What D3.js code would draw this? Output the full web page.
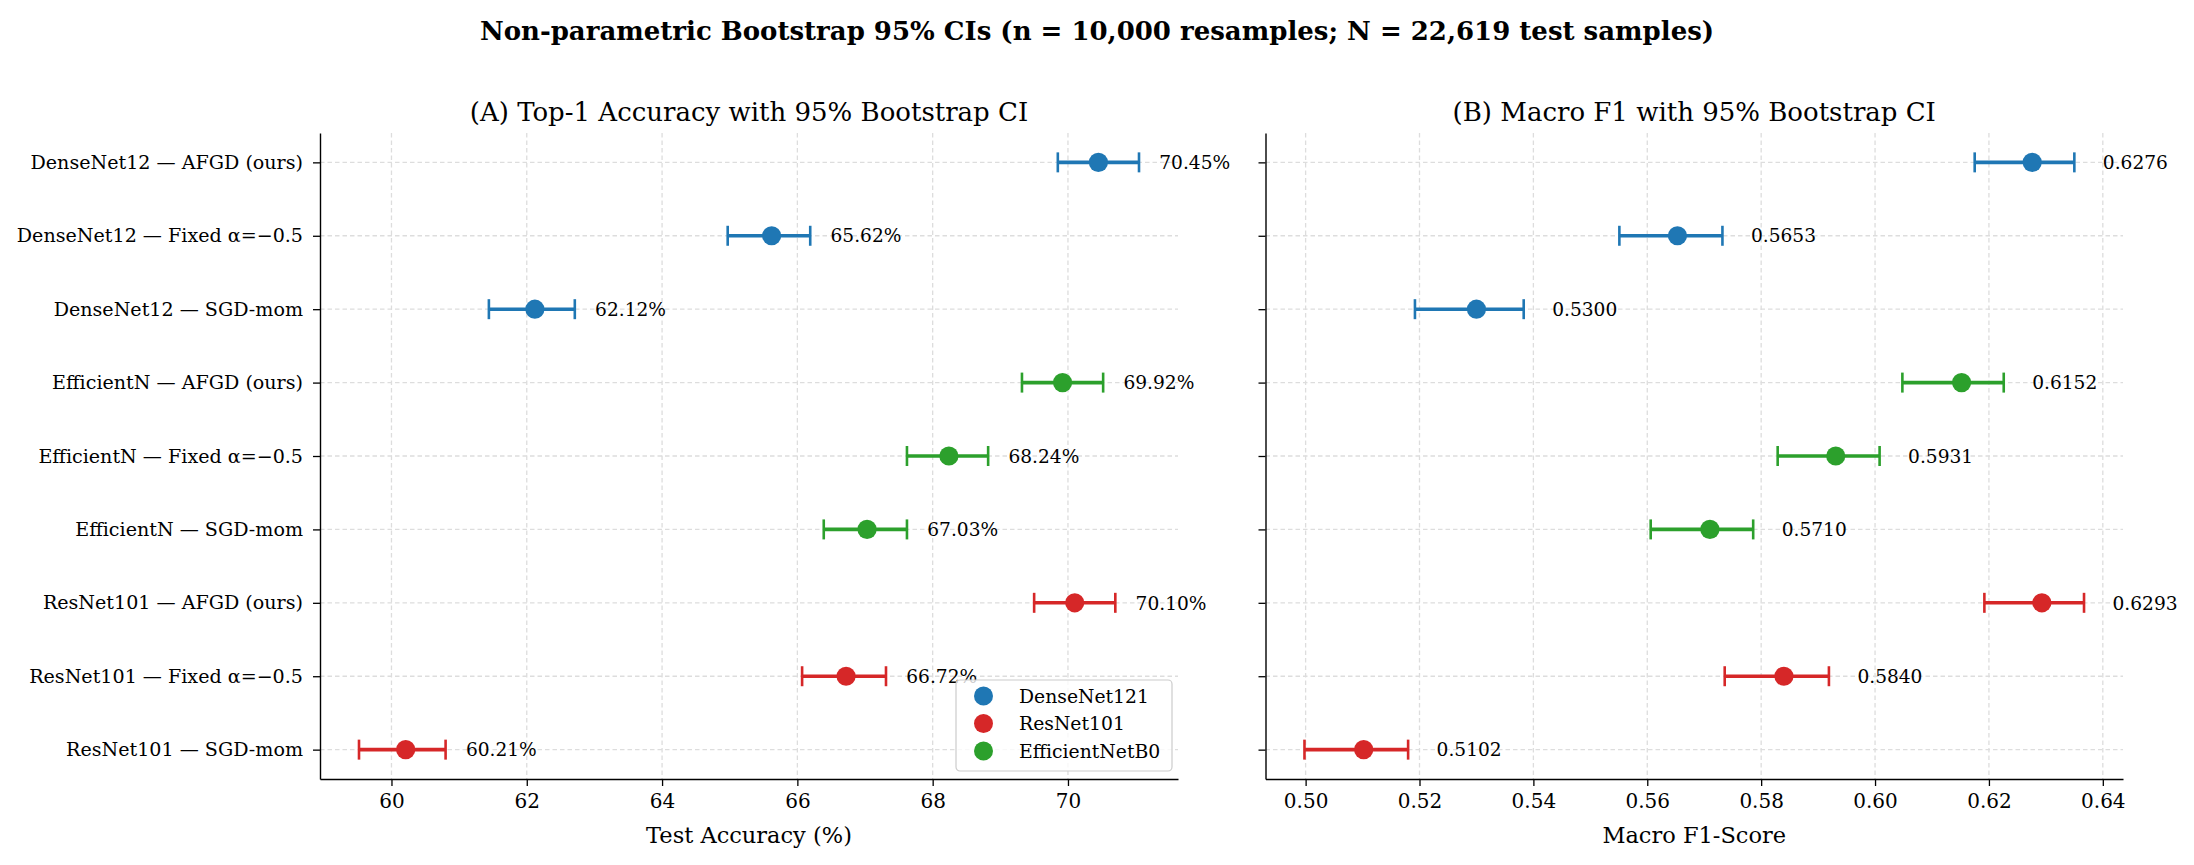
<!DOCTYPE html>
<html>
<head>
<meta charset="utf-8">
<script src="https://cdn.jsdelivr.net/npm/d3@7"></script>
<style>
  body { margin: 0; background: #fff; }
  text { font-family: "DejaVu Serif", serif; }
</style>
</head>
<body>
<div id="chart"></div>
<script>
// rows, top to bottom
var rowLabels = [
  "DenseNet12 \u2014 AFGD (ours)",
  "DenseNet12 \u2014 Fixed \u03b1=\u22120.5",
  "DenseNet12 \u2014 SGD-mom",
  "EfficientN \u2014 AFGD (ours)",
  "EfficientN \u2014 Fixed \u03b1=\u22120.5",
  "EfficientN \u2014 SGD-mom",
  "ResNet101 \u2014 AFGD (ours)",
  "ResNet101 \u2014 Fixed \u03b1=\u22120.5",
  "ResNet101 \u2014 SGD-mom"
];
var rowModel = ["DenseNet121", "DenseNet121", "DenseNet121",
                "EfficientNetB0", "EfficientNetB0", "EfficientNetB0",
                "ResNet101", "ResNet101", "ResNet101"];

// top-1 accuracy (%) with bootstrap CI
var accMean = [70.45, 65.62, 62.12, 69.92, 68.24, 67.03, 70.10, 66.72, 60.21];
var accLo   = [69.85, 64.97, 61.44, 69.32, 67.62, 66.39, 69.50, 66.07, 59.52];
var accHi   = [71.05, 66.19, 62.71, 70.52, 68.82, 67.62, 70.70, 67.31, 60.80];

// macro F1 with bootstrap CI
var f1Mean = [0.6276, 0.5653, 0.5300, 0.6152, 0.5931, 0.5710, 0.6293, 0.5840, 0.5102];
var f1Lo   = [0.6175, 0.5551, 0.5192, 0.6048, 0.5829, 0.5606, 0.6192, 0.5736, 0.4998];
var f1Hi   = [0.6350, 0.5732, 0.5383, 0.6226, 0.6008, 0.5786, 0.6367, 0.5919, 0.5180];

var accTicks = [60, 62, 64, 66, 68, 70];
var f1Ticks = [0.50, 0.52, 0.54, 0.56, 0.58, 0.60, 0.62, 0.64];

var legendModels = ["DenseNet121", "ResNet101", "EfficientNetB0"];
var colors = { "DenseNet121": "#1f77b4", "ResNet101": "#d62728", "EfficientNetB0": "#2ca02c" };

var W = 2194, H = 865;
var plotTop = 133, plotBottom = 779;

var svg = d3.select("#chart").append("svg")
    .attr("width", W)
    .attr("height", H);

svg.append("text")
    .attr("x", W / 2)
    .attr("y", 40)
    .attr("text-anchor", "middle")
    .attr("font-size", "26px")
    .attr("font-weight", "bold")
    .text("Non-parametric Bootstrap 95% CIs (n = 10,000 resamples; N = 22,619 test samples)");

// shared y scale (matplotlib style margins)
var y = d3.scalePoint()
    .domain(rowLabels)
    .range([plotTop, plotBottom])
    .padding(0.4);

function panel(p) {
  var g = svg.append("g");
  var lo = d3.min(p.lo), hi = d3.max(p.hi), r = hi - lo;
  var x = d3.scaleLinear()
      .domain([lo - 0.05 * r, hi + 0.05 * r])
      .range([p.left, p.right]);

  // grid
  g.selectAll(".vgrid").data(p.ticks).enter().append("line")
    .attr("x1", function(d) { return x(d); })
    .attr("x2", function(d) { return x(d); })
    .attr("y1", plotTop).attr("y2", plotBottom)
    .attr("stroke", "#dddddd").attr("stroke-width", 1.3)
    .attr("stroke-dasharray", "4.5,3");
  g.selectAll(".hgrid").data(rowLabels).enter().append("line")
    .attr("x1", p.left).attr("x2", p.right)
    .attr("y1", function(d) { return y(d); })
    .attr("y2", function(d) { return y(d); })
    .attr("stroke", "#dddddd").attr("stroke-width", 1.3)
    .attr("stroke-dasharray", "4.5,3");

  // axes
  var xAxis = g.append("g")
      .attr("transform", "translate(0," + plotBottom + ")")
      .call(d3.axisBottom(x).tickValues(p.ticks).tickFormat(p.tickFmt)
            .tickSize(7).tickPadding(8).tickSizeOuter(0));
  var yAxis = g.append("g")
      .attr("transform", "translate(" + p.left + ",0)")
      .call(d3.axisLeft(y).tickSize(7).tickPadding(10).tickSizeOuter(0)
            .tickFormat(p.showY ? null : ""));
  [xAxis, yAxis].forEach(function(a) {
    a.select(".domain").attr("stroke", "#000").attr("stroke-width", 1.4);
    a.selectAll(".tick line").attr("stroke", "#000").attr("stroke-width", 1.3);
    a.selectAll(".tick text").attr("fill", "#000")
      .style("font-family", "DejaVu Serif").style("font-size", "19.1px");
  });
  xAxis.selectAll(".tick text").style("font-size", "20px");

  // data rows
  var rows = g.selectAll(".row").data(rowLabels).enter().append("g");
  rows.append("line")
    .attr("x1", function(d, i) { return x(p.lo[i]); })
    .attr("x2", function(d, i) { return x(p.hi[i]); })
    .attr("y1", function(d) { return y(d); })
    .attr("y2", function(d) { return y(d); })
    .attr("stroke", function(d, i) { return colors[rowModel[i]]; })
    .attr("stroke-width", 3.6);
  rows.append("line")
    .attr("x1", function(d, i) { return x(p.lo[i]); })
    .attr("x2", function(d, i) { return x(p.lo[i]); })
    .attr("y1", function(d) { return y(d) - 10; })
    .attr("y2", function(d) { return y(d) + 10; })
    .attr("stroke", function(d, i) { return colors[rowModel[i]]; })
    .attr("stroke-width", 2.6);
  rows.append("line")
    .attr("x1", function(d, i) { return x(p.hi[i]); })
    .attr("x2", function(d, i) { return x(p.hi[i]); })
    .attr("y1", function(d) { return y(d) - 10; })
    .attr("y2", function(d) { return y(d) + 10; })
    .attr("stroke", function(d, i) { return colors[rowModel[i]]; })
    .attr("stroke-width", 2.6);
  rows.append("circle")
    .attr("cx", function(d, i) { return x(p.mean[i]); })
    .attr("cy", function(d) { return y(d); })
    .attr("r", 9.6)
    .attr("fill", function(d, i) { return colors[rowModel[i]]; });
  rows.append("text")
    .attr("x", function(d, i) { return x(p.hi[i] + p.offset); })
    .attr("y", function(d) { return y(d); })
    .attr("dy", "0.36em")
    .attr("font-size", "18.6px")
    .text(function(d, i) { return p.valFmt(p.mean[i]); });

  // titles
  g.append("text")
    .attr("x", (p.left + p.right) / 2)
    .attr("y", 121)
    .attr("text-anchor", "middle")
    .attr("font-size", "26px")
    .text(p.title);
  g.append("text")
    .attr("x", (p.left + p.right) / 2)
    .attr("y", 843)
    .attr("text-anchor", "middle")
    .attr("font-size", "22.5px")
    .text(p.xlabel);

  return x;
}

panel({
  left: 320, right: 1178,
  mean: accMean, lo: accLo, hi: accHi,
  ticks: accTicks, tickFmt: d3.format("d"),
  valFmt: function(v) { return v.toFixed(2) + "%"; }, offset: 0.3,
  title: "(A) Top-1 Accuracy with 95% Bootstrap CI",
  xlabel: "Test Accuracy (%)", showY: true
});

panel({
  left: 1265.5, right: 2123,
  mean: f1Mean, lo: f1Lo, hi: f1Hi,
  ticks: f1Ticks, tickFmt: d3.format(".2f"),
  valFmt: function(v) { return v.toFixed(4); }, offset: 0.005,
  title: "(B) Macro F1 with 95% Bootstrap CI",
  xlabel: "Macro F1-Score", showY: false
});

// legend, lower right of panel A
var lg = svg.append("g").attr("transform", "translate(956,680)");
lg.append("rect")
  .attr("width", 216).attr("height", 91).attr("rx", 4)
  .attr("fill", "#fff").attr("fill-opacity", 0.8)
  .attr("stroke", "#cccccc").attr("stroke-width", 1.2);
var items = lg.selectAll(".item").data(legendModels).enter().append("g")
  .attr("transform", function(d, i) { return "translate(0," + (16 + i * 27.5) + ")"; });
items.append("circle").attr("cx", 27.5).attr("r", 9.5)
  .attr("fill", function(d) { return colors[d]; });
items.append("text").attr("x", 63).attr("dy", "0.36em")
  .attr("font-size", "18.8px").text(function(d) { return d; });
</script>
</body>
</html>
